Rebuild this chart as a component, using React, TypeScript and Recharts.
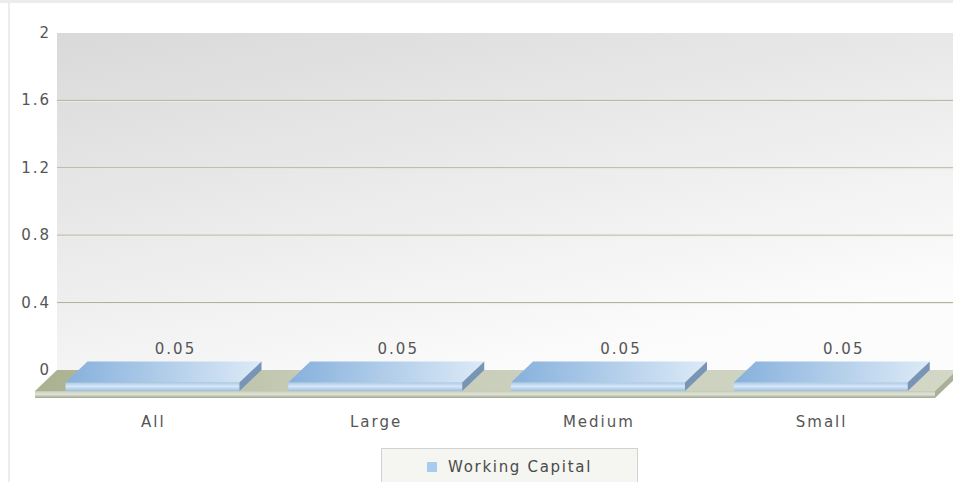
import React from "react";
import {
  BarChart,
  Bar,
  XAxis,
  YAxis,
  CartesianGrid,
  ReferenceArea,
  LabelList,
} from "recharts";

const categories = ["All", "Large", "Medium", "Small"];
const workingCapital = [0.05, 0.05, 0.05, 0.05];
const yTicks = [0, 0.4, 0.8, 1.2, 1.6, 2];
const gridValues = [0.4, 0.8, 1.2, 1.6];
const seriesName = "Working Capital";

const data = categories.map((name, i) => ({ name, value: workingCapital[i] }));

// 3D depth offset of the back wall
const DX = 22;
const DY = 21;
const FONT = "'DejaVu Sans', Verdana, sans-serif";
const TEXT = "#555555";

// back wall + floor, drawn from the area the y-scale gives for [0, 2]
const Stage = (p: any) => {
  const { x, y, width, height } = p;
  const zeroY = y + height;
  const left = x - 6;
  const right = x + width + 3;
  return (
    <g>
      <rect x={left + DX} y={y - DY} width={width + 7} height={height} fill="url(#wall)" />
      <polygon
        points={`${left},${zeroY} ${right},${zeroY} ${right + DX},${zeroY - DY} ${left + DX},${zeroY - DY}`}
        fill="url(#floorTop)"
      />
      <rect x={left} y={zeroY} width={right - left} height={7} fill="url(#floorFront)" />
      <polygon
        points={`${right},${zeroY} ${right + DX},${zeroY - DY} ${right + DX},${zeroY - DY + 7} ${right},${zeroY + 7}`}
        fill="#a9b098"
      />
    </g>
  );
};

const GridLine = (p: any) => (
  <g key={p.key}>
    <line x1={p.x1 - 6 + DX} x2={p.x2 + 1 + DX} y1={p.y1 - DY} y2={p.y2 - DY} stroke="#a9ae94" strokeWidth={1} />
    <line x1={p.x1 - 6 + DX} x2={p.x2 + 1 + DX} y1={p.y1 - DY + 1} y2={p.y2 - DY + 1} stroke="#eceee6" strokeWidth={1} />
  </g>
);

const Bar3D = (p: any) => {
  const { x, y, width, height } = p;
  const b = y + height;
  return (
    <g>
      <polygon
        points={`${x},${y} ${x + width},${y} ${x + width + DX},${y - DY} ${x + DX},${y - DY}`}
        fill="url(#barTop)"
      />
      <rect x={x} y={y} width={width} height={height} fill="url(#barFront)" />
      <polygon
        points={`${x + width},${y} ${x + width + DX},${y - DY} ${x + width + DX},${b - DY} ${x + width},${b}`}
        fill="#7895b8"
      />
    </g>
  );
};

const ValueLabel = (p: any) => (
  <text
    x={p.x + p.width / 2 + DX + 1}
    y={p.y - DY - 8}
    textAnchor="middle"
    fontFamily={FONT}
    fontSize={15}
    letterSpacing={2}
    fill={TEXT}
  >
    {p.value}
  </text>
);

const YTick = (p: any) => (
  <text
    x={p.x + 10}
    y={p.y - DY + 5}
    textAnchor="end"
    fontFamily={FONT}
    fontSize={15}
    letterSpacing={2}
    fill={TEXT}
  >
    {p.payload.value}
  </text>
);

const XTick = (p: any) => (
  <text
    x={p.x + 1}
    y={p.y + 36}
    textAnchor="middle"
    fontFamily={FONT}
    fontSize={15}
    letterSpacing={2}
    fill={TEXT}
  >
    {p.payload.value}
  </text>
);

export default function App() {
  return (
    <div
      style={{
        position: "absolute",
        left: 0,
        top: 0,
        width: 953,
        height: 482,
        background: "#fff",
        overflow: "hidden",
        fontFamily: FONT,
      }}
    >
      <div style={{ position: "absolute", left: 0, top: 0, width: 953, height: 3, background: "#ececec" }} />
      <div style={{ position: "absolute", left: 8, top: 3, width: 2, height: 479, background: "#ececec" }} />
      <BarChart
        width={953}
        height={482}
        data={data}
        margin={{ top: 54, right: 21, bottom: 61, left: 0 }}
        barCategoryGap="11%"
      >
        <defs>
          <linearGradient id="wall" x1="0" y1="0" x2="0.55" y2="1">
            <stop offset="0%" stopColor="#d9d9d9" />
            <stop offset="100%" stopColor="#fcfcfc" />
          </linearGradient>
          <linearGradient id="floorTop" x1="0" y1="0" x2="1" y2="0">
            <stop offset="0%" stopColor="#a9b190" />
            <stop offset="30%" stopColor="#c6ccb6" />
            <stop offset="100%" stopColor="#d2d7c6" />
          </linearGradient>
          <linearGradient id="floorFront" x1="0" y1="0" x2="0" y2="1">
            <stop offset="0%" stopColor="#c3c9b3" />
            <stop offset="45%" stopColor="#e2e5da" />
            <stop offset="100%" stopColor="#9fa78e" />
          </linearGradient>
          <linearGradient id="barTop" x1="0" y1="0" x2="1" y2="0">
            <stop offset="0%" stopColor="#86b0dc" />
            <stop offset="100%" stopColor="#dceaf7" />
          </linearGradient>
          <linearGradient id="barFront" x1="0" y1="0" x2="0" y2="1">
            <stop offset="0%" stopColor="#a9cbee" />
            <stop offset="45%" stopColor="#d8e8f7" />
            <stop offset="100%" stopColor="#9dbfe3" />
          </linearGradient>
        </defs>
        <ReferenceArea y1={0} y2={2} ifOverflow="visible" shape={Stage} zIndex={-200} />
        <CartesianGrid
          vertical={false}
          horizontalValues={gridValues}
          horizontal={GridLine}
          stroke="#a9ae94"
        />
        <XAxis
          dataKey="name"
          axisLine={false}
          tickLine={false}
          tickSize={0}
          tickMargin={0}
          height={30}
          tick={XTick}
        />
        <YAxis
          domain={[0, 2]}
          ticks={yTicks}
          axisLine={false}
          tickLine={false}
          tickSize={0}
          tickMargin={0}
          width={41}
          tick={YTick}
        />
        <Bar dataKey="value" name={seriesName} shape={Bar3D} isAnimationActive={false}>
          <LabelList dataKey="value" content={ValueLabel} />
        </Bar>
      </BarChart>
      <div
        style={{
          position: "absolute",
          left: 381,
          top: 448,
          width: 255,
          height: 40,
          background: "#f5f5f2",
          border: "1px solid #d2d2d2",
        }}
      >
        <div style={{ position: "absolute", left: 45, top: 13, width: 10, height: 10, background: "#a9cbee" }} />
        <div
          style={{
            position: "absolute",
            left: 66,
            top: 9,
            fontSize: 15,
            letterSpacing: 1.7,
            color: "#4a4a4a",
            whiteSpace: "nowrap",
          }}
        >
          {seriesName}
        </div>
      </div>
    </div>
  );
}
